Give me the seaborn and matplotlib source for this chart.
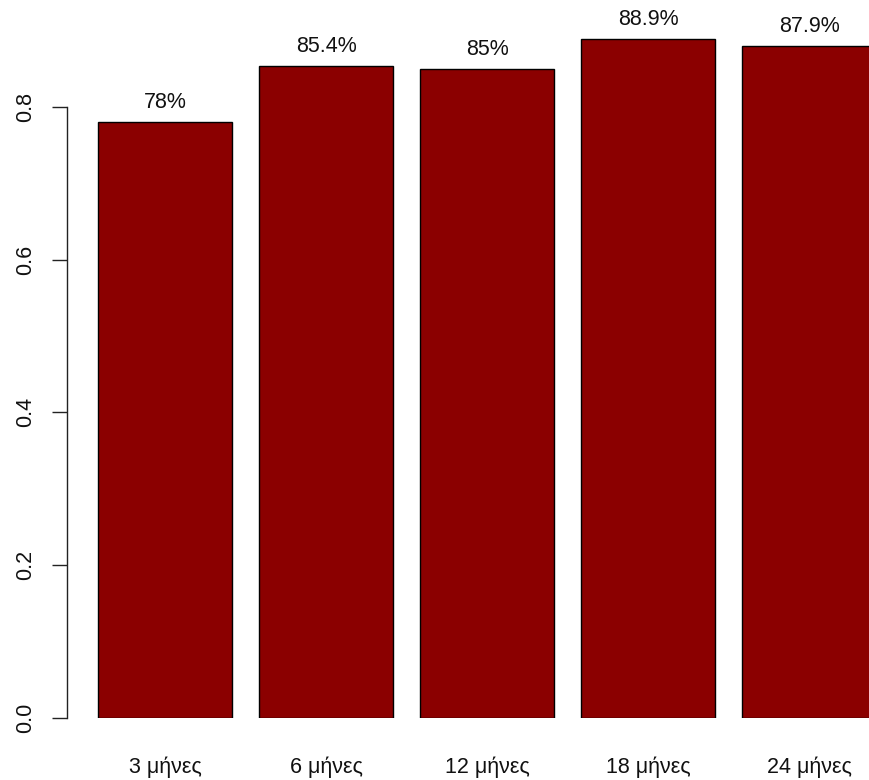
import numpy as np
import pandas as pd
import matplotlib
matplotlib.use("Agg")
import matplotlib.pyplot as plt
import seaborn as sns

# data
periods = ["3 μήνες", "6 μήνες", "12 μήνες", "18 μήνες", "24 μήνες"]
rates = [0.78, 0.854, 0.85, 0.889, 0.879]
rate_labels = ["78%", "85.4%", "85%", "88.9%", "87.9%"]

sns.set_style("white")
plt.rcParams['font.family'] = ['Liberation Sans', 'DejaVu Sans']

df = pd.DataFrame({"period": periods, "rate": rates})

fig = plt.figure(figsize=(8.69, 7.80), dpi=100)
# axes: y=0 at pixel 718, top of figure at pixel 0
ax = fig.add_axes([0, 62 / 780, 1, 718 / 780])

sns.barplot(data=df, x="period", y="rate", color="#8B0000", saturation=1,
            edgecolor="black", linewidth=1, width=134 / 161, ax=ax)

px = 161.0  # pixels per category
x0 = -165 / px
ax.set_xlim(x0, x0 + 869 / px)
ax.set_ylim(0, 718 / 764)

ax.bar_label(ax.containers[0], labels=rate_labels, padding=6.5, fontsize=15.5, color="#111111")

# R-style y axis
for s in ["top", "right", "bottom"]:
    ax.spines[s].set_visible(False)
ax.spines["left"].set_position(("data", x0 + 67 / px))
ax.spines["left"].set_bounds(0, 0.8)
ax.spines["left"].set_linewidth(1)
ax.spines["left"].set_color("#222222")
ax.set_yticks([0, 0.2, 0.4, 0.6, 0.8])
ax.set_yticklabels(["0.0", "0.2", "0.4", "0.6", "0.8"], rotation=90, va="center", fontsize=15.5)
ax.tick_params(axis="y", length=11, width=1, pad=11, left=True, color="#222222", labelcolor="#111111")
ax.tick_params(axis="x", length=0, pad=28, labelsize=15.5, labelcolor="#111111")
ax.set_xlabel("")
ax.set_ylabel("")

fig.savefig("out.png", dpi=100)
